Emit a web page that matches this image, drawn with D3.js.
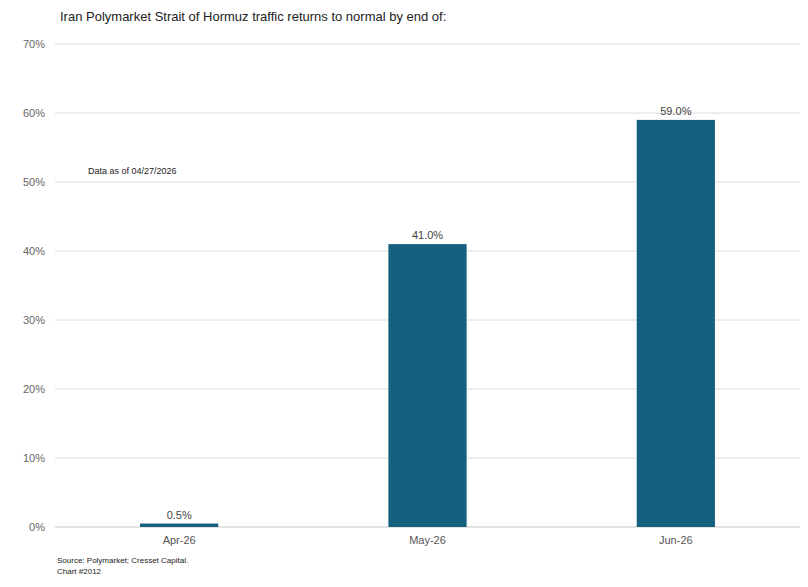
<!DOCTYPE html>
<html><head><meta charset="utf-8">
<script src="https://cdn.jsdelivr.net/npm/d3@7"></script>
<style>body{margin:0;background:#fff;font-family:"Liberation Sans",Arial,sans-serif}</style>
</head><body><svg id="c" width="808" height="587"></svg>
<script>
const categories=["Apr-26","May-26","Jun-26"];
const values=[0.5,41.0,59.0];
const yTicks=[0,10,20,30,40,50,60,70];
const svg=d3.select("#c");
const x=d3.scaleBand().domain(categories).range([55,800]).paddingInner(0.685).paddingOuter(0.3425);
const y=d3.scaleLinear().domain([0,70]).range([527,44]);
svg.append("text").attr("x",60).attr("y",21).attr("font-size",13).attr("fill","#222").text("Iran Polymarket Strait of Hormuz traffic returns to normal by end of:");
const g=svg.append("g");
yTicks.forEach(t=>{
 if(t>0) g.append("line").attr("x1",55).attr("x2",800).attr("y1",y(t)).attr("y2",y(t)).attr("stroke","#dcdcdc");
 g.append("text").attr("x",45).attr("y",y(t)+4).attr("text-anchor","end").attr("font-size",11).attr("fill","#666").text(t+"%");
});
g.append("line").attr("x1",55).attr("x2",800).attr("y1",y(0)).attr("y2",y(0)).attr("stroke","#c8c8c8");
svg.selectAll("rect.b").data(values).join("rect").attr("x",(d,i)=>x(categories[i])).attr("width",x.bandwidth())
 .attr("y",d=>y(d)).attr("height",d=>y(0)-y(d)).attr("fill","#15607f");
svg.selectAll("text.v").data(values).join("text").attr("x",(d,i)=>x(categories[i])+x.bandwidth()/2).attr("y",d=>y(d)-5)
 .attr("text-anchor","middle").attr("font-size",11).attr("fill","#444").text(d=>d.toFixed(1)+"%");
categories.forEach(c=>svg.append("text").attr("x",x(c)+x.bandwidth()/2).attr("y",544).attr("text-anchor","middle").attr("font-size",11).attr("fill","#555").text(c));
svg.append("text").attr("x",88).attr("y",174).attr("font-size",9).attr("fill","#222").text("Data as of 04/27/2026");
svg.append("text").attr("x",57).attr("y",563).attr("font-size",8).attr("fill","#222").text("Source: Polymarket; Cresset Capital.");
svg.append("text").attr("x",57).attr("y",574).attr("font-size",8).attr("fill","#222").text("Chart #2012");
</script></body></html>
